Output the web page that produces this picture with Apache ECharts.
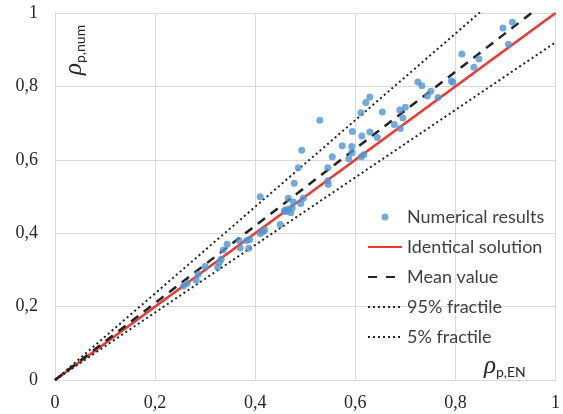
<!DOCTYPE html>
<html>
<head>
<meta charset="utf-8">
<script src="https://cdn.jsdelivr.net/npm/echarts@6/dist/echarts.min.js"></script>
<style>
  html, body { margin: 0; padding: 0; background: #fff; }
  #chart { width: 563px; height: 414px; }
</style>
</head>
<body>
<div id="chart"></div>
<script>
// Numerical results: reinforcement ratio from EN formula vs. numerical model
const resultsX = [
  0.257, 0.264, 0.282, 0.286, 0.300, 0.325, 0.328, 0.332, 0.336, 0.344,
  0.368, 0.370, 0.383, 0.389, 0.387, 0.410, 0.415, 0.419, 0.450, 0.458,
  0.460, 0.463, 0.466, 0.471, 0.474, 0.466, 0.476, 0.496, 0.491, 0.410,
  0.478, 0.545, 0.546, 0.486, 0.545, 0.493, 0.554, 0.587, 0.612, 0.617,
  0.574, 0.593, 0.593, 0.529, 0.594, 0.613, 0.611, 0.621, 0.629, 0.629,
  0.644, 0.654, 0.678, 0.689, 0.690, 0.695, 0.700, 0.725, 0.733, 0.744,
  0.751, 0.765, 0.792, 0.795, 0.813, 0.837, 0.847, 0.895, 0.914, 0.906
];
const resultsY = [
  0.256, 0.263, 0.272, 0.288, 0.309, 0.307, 0.320, 0.329, 0.354, 0.370,
  0.380, 0.360, 0.380, 0.383, 0.359, 0.399, 0.404, 0.409, 0.424, 0.460,
  0.463, 0.459, 0.466, 0.456, 0.469, 0.495, 0.485, 0.495, 0.481, 0.499,
  0.536, 0.543, 0.533, 0.578, 0.578, 0.626, 0.608, 0.603, 0.608, 0.614,
  0.638, 0.636, 0.619, 0.708, 0.677, 0.665, 0.728, 0.756, 0.771, 0.676,
  0.661, 0.730, 0.696, 0.736, 0.685, 0.714, 0.743, 0.812, 0.802, 0.774,
  0.787, 0.770, 0.815, 0.811, 0.888, 0.852, 0.875, 0.959, 0.975, 0.915
];

// Reference lines through the origin (x from 0 to 1)
const lineX = [0, 1];
const identicalY = [0, 1];
const meanY = [0, 1.05];
const fractile95Y = [0, 1.18];
const fractile5Y = [0, 0.92];

// Axis ticks
const tickValues = [0, 0.2, 0.4, 0.6, 0.8, 1];
const tickLabels = ['0', '0,2', '0,4', '0,6', '0,8', '1'];

const seriesNames = ['Numerical results', 'Identical solution', 'Mean value', '95% fractile', '5% fractile'];

const pairs = (xs, ys) => xs.map((x, i) => [x, ys[i]]);
const tickFormatter = v => {
  const i = tickValues.findIndex(t => Math.abs(t - v) < 1e-6);
  return i >= 0 ? tickLabels[i] : '';
};

const gridColor = '#d9d9d9';
const labelStyle = {
  fontFamily: 'Liberation Serif',
  fontSize: 18,
  color: '#262626',
  formatter: tickFormatter
};

const chart = echarts.init(document.getElementById('chart'), null, { renderer: 'canvas' });

const lineSeries = (name, ys, color, width, type, z) => ({
  name,
  type: 'line',
  data: pairs(lineX, ys),
  symbol: 'none',
  showSymbol: false,
  silent: true,
  z,
  itemStyle: { color },
  lineStyle: { color, width, type }
});

// legend entries for the lines show only the stroke, no marker
const hiddenMarker = { opacity: 0 };

chart.setOption({
  animation: false,
  grid: { left: 55, right: 6, top: 13, bottom: 34, containLabel: false },
  xAxis: {
    type: 'value', min: 0, max: 1, interval: 0.2,
    axisLine: { show: true, lineStyle: { color: gridColor, width: 1 } },
    axisTick: { show: false },
    splitLine: { show: true, lineStyle: { color: gridColor, width: 1 } },
    axisLabel: Object.assign({ margin: 14 }, labelStyle)
  },
  yAxis: {
    type: 'value', min: 0, max: 1, interval: 0.2,
    axisLine: { show: true, lineStyle: { color: gridColor, width: 1 } },
    axisTick: { show: false },
    splitLine: { show: true, lineStyle: { color: gridColor, width: 1 } },
    axisLabel: Object.assign({ margin: 17 }, labelStyle)
  },
  legend: {
    orient: 'vertical',
    left: 362,
    top: 202,
    itemWidth: 34,
    itemHeight: 7,
    itemGap: 10,
    selectedMode: false,
    textStyle: { fontFamily: 'Lato', fontSize: 18, color: '#404040', lineHeight: 20 },
    data: [
      { name: seriesNames[0] },
      { name: seriesNames[1], itemStyle: hiddenMarker },
      { name: seriesNames[2], itemStyle: hiddenMarker, lineStyle: { type: [9, 9] } },
      { name: seriesNames[3], itemStyle: hiddenMarker },
      { name: seriesNames[4], itemStyle: hiddenMarker }
    ]
  },
  graphic: [
    {
      type: 'text', left: 484, top: 354,
      style: {
        text: '{r|ρ}{s|p,EN}',
        rich: {
          r: { fontFamily: 'Liberation Serif', fontStyle: 'italic', fontSize: 25, fill: '#262626', verticalAlign: 'bottom' },
          s: { fontFamily: 'Lato', fontSize: 14, fill: '#262626', verticalAlign: 'bottom' }
        }
      }
    },
    {
      type: 'text', x: 87, y: 75, rotation: Math.PI / 2,
      style: {
        text: '{r|ρ}{s|p,num}',
        textAlign: 'left', textVerticalAlign: 'bottom',
        rich: {
          r: { fontFamily: 'Liberation Serif', fontStyle: 'italic', fontSize: 25, fill: '#262626', verticalAlign: 'bottom' },
          s: { fontFamily: 'Lato', fontSize: 14, fill: '#262626', verticalAlign: 'bottom' }
        }
      }
    }
  ],
  series: [
    {
      name: seriesNames[0],
      type: 'scatter',
      data: pairs(resultsX, resultsY),
      symbol: 'circle',
      symbolSize: 7,
      z: 5,
      itemStyle: { color: '#4f95d3' }
    },
    lineSeries(seriesNames[1], identicalY, '#f2352d', 2.5, 'solid', 3),
    lineSeries(seriesNames[2], meanY, '#222222', 2.5, [9, 7], 4),
    lineSeries(seriesNames[3], fractile95Y, '#222222', 2, [2, 3], 4),
    lineSeries(seriesNames[4], fractile5Y, '#222222', 2, [2, 3], 4)
  ]
});
</script>
</body>
</html>
